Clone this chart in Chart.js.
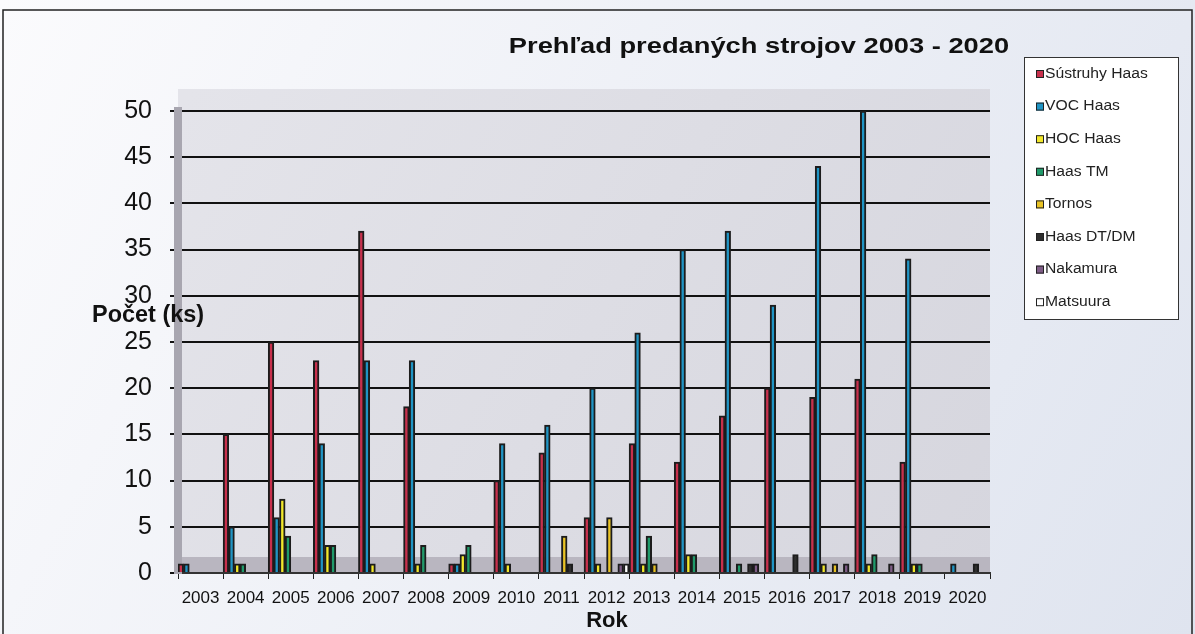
<!DOCTYPE html>
<html>
<head>
<meta charset="utf-8">
<script src="https://cdn.jsdelivr.net/npm/chart.js@4.4.1/dist/chart.umd.min.js"></script>
<style>
  html, body { margin: 0; padding: 0; background: #fff; }
  #wrap { width: 1195px; height: 634px; }
</style>
</head>
<body>
<div id="wrap"><canvas id="machinesChart" width="1195" height="634"></canvas></div>
<script>
//data
const years = ['2003','2004','2005','2006','2007','2008','2009','2010','2011','2012','2013','2014','2015','2016','2017','2018','2019','2020'];
const sustruhyHaas = [1, 15, 25, 23, 37, 18, 1, 10, 13, 6, 14, 12, 17, 20, 19, 21, 12, 0];
const vocHaas      = [1, 5, 6, 14, 23, 23, 1, 14, 16, 20, 26, 35, 37, 29, 44, 50, 34, 1];
const hocHaas      = [0, 1, 8, 3, 1, 1, 2, 1, 0, 1, 1, 2, 0, 0, 1, 1, 1, 0];
const haasTM       = [0, 1, 4, 3, 0, 3, 3, 0, 0, 0, 4, 2, 1, 0, 0, 2, 1, 0];
const tornos       = [0, 0, 0, 0, 0, 0, 0, 0, 4, 6, 1, 0, 0, 0, 1, 0, 0, 0];
const haasDTDM     = [0, 0, 0, 0, 0, 0, 0, 0, 1, 0, 0, 0, 1, 2, 0, 0, 0, 1];
const nakamura     = [0, 0, 0, 0, 0, 0, 0, 0, 0, 1, 0, 0, 1, 0, 1, 1, 0, 0];
const matsuura     = [0, 0, 0, 0, 0, 0, 0, 0, 0, 1, 0, 0, 0, 0, 0, 0, 0, 0];
const yTicks = [0, 5, 10, 15, 20, 25, 30, 35, 40, 45, 50];

//colors
var red = '#c8304c';
var blue = '#1f94c4';
var lightYellow = '#f2e82a';
var green = '#1f9a6a';
var gold = '#e9c324';
var black = '#2e2e2e';
var purple = '#7e5c86';
var white = '#ffffff';

const FONT = '"Liberation Sans", Arial, sans-serif';

function ds(label, data, color) {
  return {
    label: label,
    data: data,
    backgroundColor: color,
    borderColor: '#1c1c1c',
    borderWidth: 2,
    categoryPercentage: 1.0,
    barPercentage: 1.0
  };
}

const machinesData = {
  labels: years,
  datasets: [
    ds('Sústruhy Haas', sustruhyHaas, red),
    ds('VOC Haas', vocHaas, blue),
    ds('HOC Haas', hocHaas, lightYellow),
    ds('Haas TM', haasTM, green),
    ds('Tornos', tornos, gold),
    ds('Haas DT/DM', haasDTDM, black),
    ds('Nakamura', nakamura, purple),
    ds('Matsuura', matsuura, white)
  ]
};

function stretchedText(ctx, text, x, y, sx) {
  ctx.save();
  ctx.translate(x, y);
  ctx.scale(sx, 1);
  ctx.fillText(text, 0, 0);
  ctx.restore();
}

// background, plot wall, titles, legend box
const decorPlugin = {
  id: 'decor',
  beforeDraw(chart) {
    const ctx = chart.ctx;
    const a = chart.chartArea;
    ctx.save();
    let g = ctx.createLinearGradient(0, 0, 1195, 634);
    g.addColorStop(0, '#fbfbfd');
    g.addColorStop(1, '#dfe4ef');
    ctx.fillStyle = g;
    ctx.fillRect(0, 0, 1195, 634);
    ctx.strokeStyle = '#222';
    ctx.lineWidth = 1.5;
    ctx.strokeRect(3, 10, 1189, 640);
    // back wall
    let w = ctx.createLinearGradient(a.left, a.top, a.right, a.bottom);
    w.addColorStop(0, '#e4e4ea');
    w.addColorStop(1, '#d6d6de');
    ctx.fillStyle = w;
    ctx.fillRect(a.left, a.top - 22, a.right - a.left, a.bottom - a.top + 22);
    // floor band
    ctx.fillStyle = '#b9b6c0';
    ctx.fillRect(a.left, a.bottom - 16, a.right - a.left, 16);
    ctx.restore();
  },
  afterDraw(chart) {
    const ctx = chart.ctx;
    ctx.save();
    ctx.fillStyle = '#111';
    ctx.textBaseline = 'middle';
    ctx.textAlign = 'center';
    ctx.font = 'bold 22px ' + FONT;
    stretchedText(ctx, 'Prehľad predaných strojov 2003 - 2020', 759, 47, 1.24);
    ctx.font = 'bold 23px ' + FONT;
    ctx.textAlign = 'left';
    stretchedText(ctx, 'Počet (ks)', 92, 316, 1.02);
    ctx.textAlign = 'center';
    ctx.font = 'bold 22px ' + FONT;
    ctx.fillText('Rok', 607, 621);

    // legend
    const lx = 1024, ly = 57, lw = 154, lh = 262;
    ctx.fillStyle = '#fff';
    ctx.fillRect(lx, ly, lw, lh);
    ctx.strokeStyle = '#333';
    ctx.lineWidth = 1;
    ctx.strokeRect(lx + 0.5, ly + 0.5, lw, lh);
    ctx.font = '14px ' + FONT;
    ctx.textAlign = 'left';
    chart.data.datasets.forEach(function (d, i) {
      const y = 74 + i * 32.6;
      ctx.fillStyle = d.backgroundColor;
      ctx.fillRect(1036, y - 4, 8, 8);
      ctx.strokeStyle = '#222';
      ctx.strokeRect(1036.5, y - 3.5, 7, 7);
      ctx.fillStyle = '#222';
      stretchedText(ctx, d.label, 1045, y, 1.12);
    });
    ctx.restore();
  }
};

new Chart(
  document.getElementById('machinesChart'), {
    type: 'bar',
    data: machinesData,
    plugins: [decorPlugin],
    options: {
      responsive: false,
      animation: false,
      layout: { padding: { top: 111, right: 205, bottom: 0, left: 0 } },
      plugins: {
        legend: { display: false },
        title: { display: false },
        tooltip: { enabled: false }
      },
      scales: {
        x: {
          afterFit: function (s) { s.height = 61; },
          grid: { display: true, drawOnChartArea: false, tickLength: 6, color: '#222', offset: true },
          border: { color: '#333', width: 2 },
          ticks: { color: '#111', font: { size: 17, family: FONT }, padding: 9, maxRotation: 0, autoSkip: false }
        },
        y: {
          min: 0,
          max: 50,
          afterFit: function (s) { s.width = 178; },
          afterBuildTicks: function (s) { s.ticks = yTicks.map(v => ({ value: v })); },
          grid: { color: '#111', lineWidth: 2, drawTicks: true, tickLength: 8 },
          border: { display: true, color: '#a8a6b0', width: 8 },
          ticks: { color: '#111', font: { size: 25, family: FONT }, padding: 18 }
        }
      }
    }
  }
);
</script>
</body>
</html>
